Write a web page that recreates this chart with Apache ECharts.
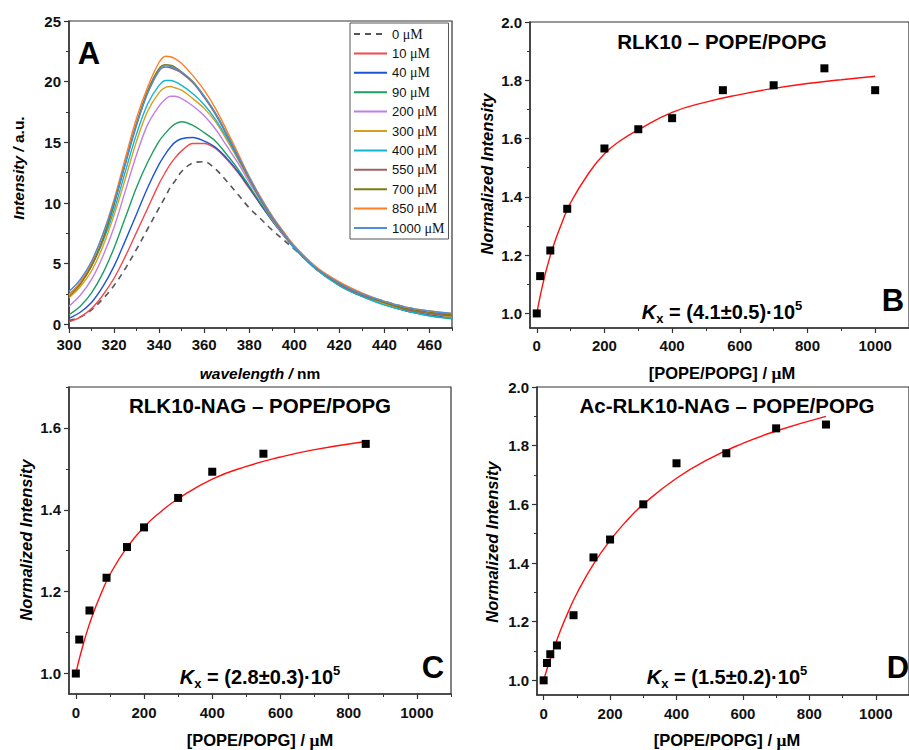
<!DOCTYPE html>
<html><head><meta charset="utf-8">
<script src="https://cdn.jsdelivr.net/npm/echarts@6/dist/echarts.min.js"></script>
<style>html,body{margin:0;padding:0;background:#fff}#c{width:909px;height:750px}</style>
</head><body><div id="c"></div>
<script>
// ---------- DATA ----------
const wavelengths = [300,305,310,315,320,325,330,335,340,343,345,347,350,355,360,365,370,375,380,385,390,395,400,410,420,430,440,450,460,470];
const seriesNames = ['0 μM','10 μM','40 μM','90 μM','200 μM','300 μM','400 μM','550 μM','700 μM','850 μM','1000 μM'];
const s0    = [0.3,0.6,1.2,2.1,3.2,4.6,6.2,7.9,9.6,10.6,11.3,11.8,12.6,13.3,13.4,12.8,11.8,10.7,9.6,8.7,7.8,7.0,6.2,4.6,3.4,2.5,1.9,1.4,1.0,0.8];
const s10   = [0.2,0.6,1.3,2.4,3.8,5.6,7.6,9.6,11.6,12.6,13.2,13.7,14.3,14.9,14.9,14.5,13.6,12.5,11.2,9.9,8.6,7.4,6.3,4.5,3.3,2.4,1.7,1.1,0.8,0.6];
const s40   = [0.5,1.0,1.8,3.1,4.8,6.9,9.1,11.3,13.2,14.1,14.6,15.0,15.3,15.4,15.1,14.6,13.7,12.6,11.3,9.9,8.6,7.4,6.3,4.5,3.3,2.4,1.7,1.1,0.8,0.5];
const s90   = [0.8,1.5,2.6,4.2,6.3,8.8,11.3,13.4,15.1,15.8,16.2,16.5,16.7,16.4,15.8,15.1,14.0,12.8,11.4,10.0,8.6,7.4,6.3,4.5,3.2,2.3,1.6,1.1,0.7,0.45];
const s200  = [1.5,2.4,3.7,5.6,8.0,11.0,14.0,16.5,18.0,18.6,18.8,18.8,18.6,18.0,17.2,16.1,14.7,13.3,11.7,10.2,8.7,7.4,6.3,4.5,3.3,2.4,1.7,1.2,0.9,0.6];
const s300  = [2.2,3.1,4.4,6.4,9.0,12.0,15.1,17.6,19.1,19.55,19.6,19.5,19.3,18.6,17.8,16.7,15.2,13.6,11.9,10.3,8.8,7.5,6.4,4.6,3.3,2.4,1.7,1.2,0.9,0.6];
const s400  = [2.5,3.4,4.8,6.8,9.4,12.6,15.7,18.2,19.7,20.1,20.1,20.0,19.7,19.0,18.1,16.9,15.4,13.7,12.0,10.3,8.8,7.5,6.3,4.5,3.2,2.3,1.6,1.1,0.7,0.5];
const s550  = [2.4,3.4,4.9,7.0,9.9,13.2,16.4,19.1,20.9,21.2,21.15,21.0,20.7,19.9,18.7,17.3,15.6,13.8,12.0,10.3,8.8,7.5,6.4,4.6,3.3,2.4,1.8,1.2,0.9,0.7];
const s700  = [2.3,3.3,4.8,7.0,9.9,13.3,16.6,19.3,21.1,21.4,21.35,21.2,20.8,20.0,18.8,17.4,15.7,13.9,12.1,10.4,8.9,7.6,6.4,4.6,3.4,2.5,1.8,1.3,1.0,0.8];
const s850  = [2.4,3.5,5.1,7.4,10.3,13.7,17.0,19.6,21.6,22.1,22.05,21.9,21.5,20.5,19.3,17.8,16.0,14.1,12.2,10.5,9.0,7.7,6.5,4.7,3.5,2.6,1.9,1.4,1.1,0.9];
const s1000 = [2.7,3.7,5.2,7.4,10.1,13.3,16.5,19.1,20.9,21.3,21.25,21.1,20.8,20.0,18.8,17.4,15.7,13.9,12.1,10.4,8.9,7.6,6.4,4.6,3.4,2.5,1.9,1.4,1.1,0.9];

const bConc = [0,10,40,90,200,300,400,550,700,850,1000];
const bVal  = [1.00,1.128,1.216,1.359,1.566,1.632,1.670,1.766,1.783,1.841,1.766];
const bFitX = [0,5,10,20,30,50,75,100,150,200,250,300,400,500,600,700,800,900,1000];
const bFitY = [1.000,1.030,1.059,1.111,1.157,1.235,1.313,1.380,1.475,1.548,1.595,1.630,1.690,1.725,1.751,1.772,1.789,1.802,1.814];

const cConc = [0,10,40,90,150,200,300,400,550,850];
const cVal  = [1.00,1.083,1.154,1.234,1.309,1.357,1.429,1.493,1.537,1.561];
const cFitX = [0,5,10,20,30,50,75,100,150,200,250,300,400,500,600,700,850];
const cFitY = [1.000,1.018,1.035,1.066,1.095,1.145,1.197,1.242,1.308,1.358,1.396,1.427,1.475,1.506,1.529,1.547,1.567];

const dConc = [0,10,20,40,90,150,200,300,400,550,700,850];
const dVal  = [1.00,1.059,1.089,1.119,1.222,1.419,1.480,1.600,1.740,1.774,1.859,1.872];
const dFitX = [0,5,10,20,30,50,75,100,150,200,250,300,400,500,600,700,850];
const dFitY = [1.000,1.019,1.038,1.073,1.106,1.168,1.236,1.296,1.396,1.477,1.544,1.600,1.689,1.756,1.808,1.850,1.900];

const aXTicks = [300,320,340,360,380,400,420,440,460];
const aYTicks = [0,5,10,15,20,25];
const concTicks = [0,200,400,600,800,1000];
const bYTicks = [1.0,1.2,1.4,1.6,1.8,2.0];
const cYTicks = [1.0,1.2,1.4,1.6];
const dYTicks = [1.0,1.2,1.4,1.6,1.8,2.0];

// ---------- STYLE ----------
const colors = ['#555555','#f2484e','#1a55d4','#1f9e62','#c17fe3','#d6a01e','#12b4d4','#a0625e','#7d7a10','#ff7f27','#4f8fd6'];
const SANS = 'Arial, "Liberation Sans", Helvetica, sans-serif';
const SERIF = '"Times New Roman", "Liberation Serif", serif';
const AX = '#333';

function mids(t, lo, hi) {
  const step = t[1] - t[0];
  const out = [];
  for (let v = t[0] - step / 2; v <= hi + 1e-9; v += step) if (v >= lo - 1e-9) out.push(+v.toFixed(4));
  return out;
}
function mainAxis(grid, min, max, ticks, dim, fmt, margin) {
  return {
    type: 'value', gridIndex: grid, min: min, max: max,
    position: dim === 'x' ? 'bottom' : 'left',
    axisLine: { show: true, onZero: false, lineStyle: { color: AX, width: 1.5 } },
    axisTick: { show: true, inside: false, length: 5, customValues: ticks, lineStyle: { color: AX, width: 1.2 } },
    axisLabel: { show: true, customValues: ticks, margin: margin, fontFamily: SANS, fontWeight: 'bold', fontSize: 15, color: '#111',
      formatter: fmt },
    splitLine: { show: false }
  };
}
function minorAxis(grid, min, max, ticks, dim) {
  return {
    type: 'value', gridIndex: grid, min: min, max: max,
    position: dim === 'x' ? 'bottom' : 'left',
    axisLine: { show: false, onZero: false },
    axisTick: { show: true, inside: false, length: 3, customValues: mids(ticks, min, max), lineStyle: { color: AX, width: 1 } },
    axisLabel: { show: false },
    splitLine: { show: false }
  };
}
const f0 = v => String(Math.round(v));
const f1 = v => v.toFixed(1);

const grids = [
  { left: 69, top: 21, width: 383, height: 307 },
  { left: 530, top: 22, width: 382, height: 306 },
  { left: 69, top: 387, width: 382, height: 307 },
  { left: 537, top: 387, width: 382, height: 308 }
].map(g => Object.assign(g, { show: true, borderColor: AX, borderWidth: 1.2, containLabel: false }));

const xAxes = [
  mainAxis(0, 300, 470, aXTicks, 'x', f0, 9), minorAxis(0, 300, 470, aXTicks, 'x'),
  mainAxis(1, -20, 1100, concTicks, 'x', f0, 10), minorAxis(1, -20, 1100, concTicks, 'x'),
  mainAxis(2, -20, 1100, concTicks, 'x', f0, 11), minorAxis(2, -20, 1100, concTicks, 'x'),
  mainAxis(3, -20, 1100, concTicks, 'x', f0, 11), minorAxis(3, -20, 1100, concTicks, 'x')
];
const yAxes = [
  mainAxis(0, -0.3, 25, aYTicks, 'y', f0, 8), minorAxis(0, -0.3, 25, aYTicks, 'y'),
  mainAxis(1, 0.95, 2.0, bYTicks, 'y', f1, 8), minorAxis(1, 0.95, 2.0, bYTicks, 'y'),
  mainAxis(2, 0.95, 1.7, cYTicks, 'y', f1, 8), minorAxis(2, 0.95, 1.7, cYTicks, 'y'),
  mainAxis(3, 0.95, 2.0, dYTicks, 'y', f1, 8), minorAxis(3, 0.95, 2.0, dYTicks, 'y')
];

const specs = [s0,s10,s40,s90,s200,s300,s400,s550,s700,s850,s1000];
const series = specs.map((arr, i) => ({
  name: seriesNames[i], type: 'line', xAxisIndex: 0, yAxisIndex: 0,
  data: wavelengths.map((w, j) => [w, arr[j]]),
  showSymbol: false, symbol: 'none', smooth: 0.35,
  lineStyle: { color: colors[i], width: i === 0 ? 1.6 : 1.4, type: i === 0 ? [6, 5] : 'solid' },
  itemStyle: { color: colors[i] }, z: 2 + i
}));
function zip(a, b) { return a.map((v, i) => [v, b[i]]); }
[[bFitX,bFitY,bConc,bVal],[cFitX,cFitY,cConc,cVal],[dFitX,dFitY,dConc,dVal]].forEach((p, k) => {
  const ax = (k + 1) * 2;
  series.push({ type: 'line', xAxisIndex: ax, yAxisIndex: ax, data: zip(p[0], p[1]), smooth: 0.5,
    showSymbol: false, symbol: 'none', lineStyle: { color: '#ff1010', width: 1.4 }, z: 3 });
  series.push({ type: 'scatter', xAxisIndex: ax, yAxisIndex: ax, data: zip(p[2], p[3]),
    symbol: 'rect', symbolSize: 8, itemStyle: { color: '#000', opacity: 1 }, z: 4 });
});

function txt(x, y, text, font) {
  return { type: 'text', x: x, y: y, silent: true,
    style: { text: text, fill: '#000', align: 'center', verticalAlign: 'middle', font: font } };
}
const kRich = {
  k: { fontFamily: SANS, fontWeight: 'bold', fontStyle: 'italic', fontSize: 20, lineHeight: 24, verticalAlign: 'middle' },
  s: { fontFamily: SANS, fontWeight: 'bold', fontSize: 13, lineHeight: 26, verticalAlign: 'bottom' },
  t: { fontFamily: SANS, fontWeight: 'bold', fontSize: 20, lineHeight: 24, verticalAlign: 'middle' },
  p: { fontFamily: SANS, fontWeight: 'bold', fontSize: 13, lineHeight: 24, verticalAlign: 'top' }
};
function kx(x, y, val) {
  return { type: 'text', x: x, y: y, silent: true,
    style: { text: '{k|K}{s|x}{t| = ' + val + '·10}{p|5}', rich: kRich, align: 'center', verticalAlign: 'middle' } };
}
const titleRich = {
  i: { fontFamily: SANS, fontWeight: 'bold', fontStyle: 'italic', fontSize: 15.5 },
  n: { fontFamily: SANS, fontWeight: 'bold', fontSize: 15.5 }
};
const normRich = {
  i: { fontFamily: SANS, fontWeight: 'bold', fontStyle: 'italic', fontSize: 16.5 }
};
const muRich = {
  n: { fontFamily: SANS, fontWeight: 'bold', fontSize: 16.5 },
  u: { fontFamily: SERIF, fontWeight: 'bold', fontSize: 17.5 },
  m: { fontFamily: SANS, fontWeight: 'bold', fontSize: 16.5 }
};
const concTitle = '{n|[POPE/POPG] / }{u|μ}{m|M}';
const TF = 'bold 20.5px ' + SANS;
const LF = 'bold 31px ' + SANS;
function rtext(x, y, text, rich, rotate) {
  const o = { type: 'text', x: x, y: y, silent: true, style: { text: text, rich: rich, align: 'center', verticalAlign: 'middle' } };
  if (rotate) o.rotation = Math.PI / 2;
  return o;
}

const graphic = [
  txt(89, 53, 'A', LF),
  txt(893, 300, 'B', LF),
  txt(433, 667, 'C', LF),
  txt(898, 667, 'D', LF),
  txt(722, 41, 'RLK10 – POPE/POPG', TF),
  txt(260, 405, 'RLK10-NAG – POPE/POPG', TF),
  txt(727, 405, 'Ac-RLK10-NAG – POPE/POPG', TF),
  kx(722, 312, '(4.1±0.5)'),
  kx(260, 677, '(2.8±0.3)'),
  kx(727, 677, '(1.5±0.2)'),
  rtext(260, 373, '{i|wavelength /}{n| nm}', titleRich),
  rtext(722, 373, concTitle, muRich),
  rtext(260, 740, concTitle, muRich),
  rtext(727, 740, concTitle, muRich),
  rtext(18, 168, '{i|Intensity /}{n| a.u.}', titleRich, true),
  rtext(487, 174, '{i|Normalized Intensity}', normRich, true),
  rtext(26, 540, '{i|Normalized Intensity}', normRich, true),
  rtext(492, 542, '{i|Normalized Intensity}', normRich, true)
];

const chart = echarts.init(document.getElementById('c'), null, { renderer: 'svg', width: 909, height: 750 });
chart.setOption({
  backgroundColor: '#fff',
  animation: false,
  grid: grids,
  xAxis: xAxes,
  yAxis: yAxes,
  legend: {
    data: seriesNames, orient: 'vertical', left: 350, top: 23,
    backgroundColor: '#fff', borderColor: '#555', borderWidth: 1, borderRadius: 0,
    padding: [4, 4, 4, 3], itemWidth: 33, itemHeight: 12, itemGap: 5.4,
    selectedMode: false,
    itemStyle: { opacity: 0, borderWidth: 0 },
    textStyle: { color: '#111', fontSize: 13, fontFamily: SANS, lineHeight: 14,
      rich: { n: { fontFamily: SANS, fontSize: 13, lineHeight: 14, color: '#111' }, m: { fontFamily: SERIF, fontSize: 14, lineHeight: 14, color: '#111' } } },
    formatter: name => '{n|' + name.replace(' μM', ' ') + '}{m|μM}'
  },
  series: series,
  graphic: graphic
});
</script></body></html>
